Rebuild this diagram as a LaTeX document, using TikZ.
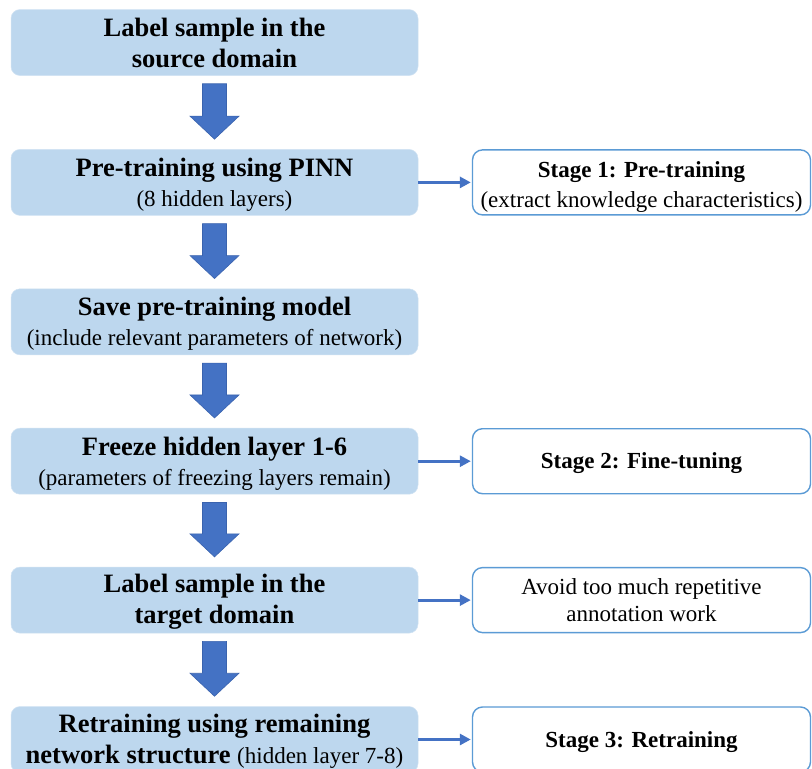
\documentclass[tikz,border=0pt]{standalone}
\usepackage{fontspec}
\setmainfont{Liberation Serif}
\usetikzlibrary{calc,arrows.meta}
\definecolor{stepfill}{HTML}{BDD7EE}
\definecolor{arrowblue}{HTML}{4472C4}
\definecolor{arrowedge}{HTML}{3A63AE}
\definecolor{stageedge}{HTML}{5B9BD5}
\newcommand{\bigfont}{\fontsize{26.5}{31}\selectfont\bfseries}
\newcommand{\smallfont}{\fontsize{23}{31}\selectfont\mdseries}
\newcommand{\stagefont}{\fontsize{23}{28}\selectfont}
% invisible strut that lowers the first text line
\newcommand{\firstline}[1]{\rule{0pt}{#1pt}}
% block arrow from the bottom of one step box to the top of the next
\newcommand{\blockarrow}[2]{%
  \path let \p1=(#1.south), \p2=(#2.north) in
    [fill=arrowblue, draw=arrowedge, line width=0.6pt, line join=miter]
    (\x1-12,\y1-8) -- (\x1+12,\y1-8) -- (\x1+12,\y2+33) -- (\x1+24.5,\y2+33)
    -- (\x1,\y2+10) -- (\x1-24.5,\y2+33) -- (\x1-12,\y2+33) -- cycle;}
\begin{document}
\begin{tikzpicture}[x=1pt, y=-1pt,
  stepbox/.style={rectangle, rounded corners=9pt, fill=stepfill, draw=stepfill!70!white,
    line width=0.5pt, minimum width=407pt, minimum height=66pt, inner sep=0pt, align=center,
    font=\bigfont},
  stagebox/.style={rectangle, rounded corners=10pt, fill=white, draw=stageedge,
    line width=1.4pt, minimum width=338pt, minimum height=65pt, inner sep=0pt, align=center,
    font=\stagefont},
  link/.style={draw=arrowblue, line width=3pt, -{Triangle[length=11pt, width=11pt]}, shorten >=1pt}
]
\useasboundingbox (0,0) rectangle (812,769);
\fill[white] (0,0) rectangle (812,769);

\node[stepbox] (s1) at (214.5,42.5) {Label sample in the\\source domain};
\node[stepbox] (s2) at (214.5,182.4) {\firstline{23}Pre-training using PINN\\[-1pt]\smallfont (8 hidden layers)};
\node[stepbox] (s3) at (214.5,321.8) {\firstline{23}Save pre-training model\\[-1pt]\smallfont (include relevant parameters of network)};
\node[stepbox] (s4) at (214.5,461.2) {\firstline{23}Freeze hidden layer 1-6\\[-1pt]\smallfont (parameters of freezing layers remain)};
\node[stepbox] (s5) at (214.5,600.1) {\firstline{22}Label sample in the\\target domain};
\node[stepbox] (s6) at (214.5,739.5) {\firstline{22}Retraining using remaining\\network structure {\smallfont (hidden layer 7-8)}};

\node[stagebox] (t2) at (641.5,182.4) {\firstline{25}\textbf{Stage 1: Pre-training}\\[2pt](extract knowledge characteristics)};
\node[stagebox] (t4) at (641.5,461.2) {\firstline{20}\textbf{Stage 2: Fine-tuning}};
\node[stagebox] (t5) at (641.5,600.1) {Avoid too much repetitive\\[-1pt]annotation work};
\node[stagebox] (t6) at (641.5,739.5) {\firstline{21}\textbf{Stage 3: Retraining}};

\blockarrow{s1}{s2}
\blockarrow{s2}{s3}
\blockarrow{s3}{s4}
\blockarrow{s4}{s5}
\blockarrow{s5}{s6}

\draw[link] (s2.east) -- (t2.west);
\draw[link] (s4.east) -- (t4.west);
\draw[link] (s5.east) -- (t5.west);
\draw[link] (s6.east) -- (t6.west);
\end{tikzpicture}
\end{document}
